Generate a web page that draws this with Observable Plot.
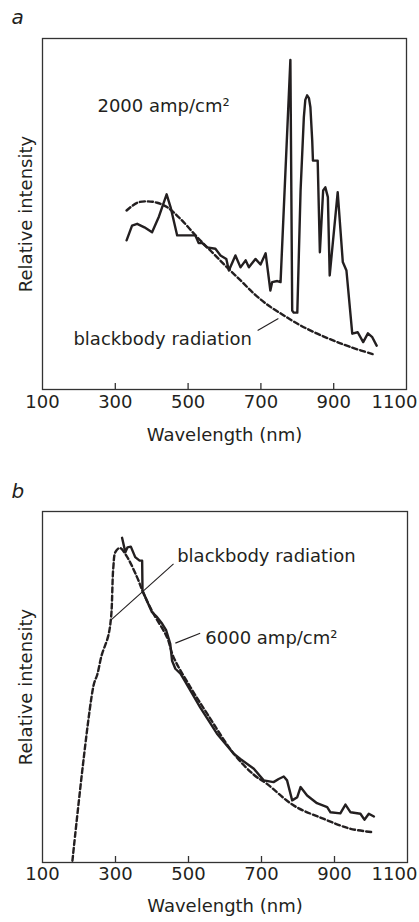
<!DOCTYPE html>
<html><head><meta charset="utf-8">
<script src="https://cdn.jsdelivr.net/npm/d3@7"></script>
<script src="https://cdn.jsdelivr.net/npm/@observablehq/plot@0.6"></script>
<style>
body{margin:0;background:#fff;font-family:"DejaVu Sans",sans-serif;}
#wrap{position:relative;width:419px;height:922px;}
.panel{position:absolute;left:0;}
</style></head><body>
<div id="wrap"><div id="pa" class="panel" style="top:0"></div><div id="pb" class="panel" style="top:460px"></div></div>
<script>
// x axis ticks (nm)
const xTicks = [100, 300, 500, 700, 900, 1100];

// Panel a: 2000 amp/cm^2 spectrum [wavelength nm, relative intensity]
const solidA = [[331,42.5],[346,46.7],[360,47.2],[380,46.2],[401,44.8],[420,49.3],[441,55.6],[452,51.9],[470,43.9],[520,43.9],[529,41.7],[539,41.7],[552,40.5],[575,40.1],[589,38.2],[605,37.2],[612,33.9],[630,38.2],[644,34.8],[658,36.8],[667,34.8],[685,37.2],[699,35.6],[713,38.8],[726,28.2],[731,30.6],[745,30.9],[754,30.6],[781,93.9],[786,22.5],[790,21.9],[800,21.9],[809,56.7],[818,77.6],[822,82.5],[827,83.8],[832,83.0],[836,80.4],[841,70.9],[843,65.2],[856,65.2],[862,39.1],[871,56.7],[877,57.6],[884,54.8],[889,32.5],[911,56.2],[925,36.3],[935,33.9],[951,15.9],[966,16.3],[981,13.5],[994,16.0],[1006,14.9],[1018,12.5]];
// Panel a: blackbody radiation curve
const dashedA = [[331,51.0],[360,53.2],[388,53.6],[415,53.2],[443,51.9],[480,48.5],[525,43.4],[567,39.0],[607,34.8],[645,31.0],[681,27.3],[720,24.0],[763,21.1],[808,18.3],[855,15.9],[900,13.9],[946,12.1],[1010,10.0]];

// Panel b: 6000 amp/cm^2 spectrum
const solidB = [[318,92.5],[327,88.4],[333,89.8],[342,90.0],[354,87.0],[366,86.0],[373,86.0],[374,77.5],[386,74.6],[400,71.3],[414,69.9],[428,68.0],[439,66.1],[450,62.3],[455,57.5],[464,55.2],[478,53.8],[489,51.9],[532,44.2],[578,36.7],[624,31.0],[642,29.5],[679,26.7],[706,23.4],[733,22.9],[747,23.8],[761,24.5],[770,23.4],[784,17.7],[798,18.6],[807,21.5],[825,19.1],[852,16.9],[880,15.8],[889,14.3],[916,14.0],[930,16.5],[944,14.3],[971,13.9],[982,12.2],[994,13.9],[1008,13.1]];
// Panel b: blackbody radiation curve
const dashedB = [[182,0.5],[240,50.5],[250,53.5],[262,59.0],[280,64.5],[288,70.0],[294,84.0],[300,88.5],[312,89.6],[331,87.2],[359,81.3],[377,76.6],[404,70.9],[441,64.2],[459,58.5],[505,50.0],[551,42.4],[624,31.0],[679,25.0],[715,22.4],[789,16.2],[871,12.4],[944,9.6],[1008,8.6]];

// Annotations
const labelsA = [{x: 251, y: 80.7, text: "2000 amp/cm²"}, {x: 185, y: 14.4, text: "blackbody radiation"}];
const leadersA = [{x1: 691, y1: 16.8, x2: 748, y2: 20.2}];
const labelsB = [{x: 469, y: 87.2, text: "blackbody radiation"}, {x: 546, y: 63.8, text: "6000 amp/cm²"}];
const leadersB = [{x1: 459, y1: 85.1, x2: 288, y2: 69.1}, {x1: 532, y1: 65.3, x2: 464, y2: 62.5}];

const ink = "#231f20";

function panel({letter, solid, dashed, labels, leaders, height, marginTop, marginBottom, marginRight, tickDy, labelDy, letterDy, lastDx}) {
  const plotH = height - marginTop - marginBottom;
  return Plot.plot({
    width: 419, height, marginTop, marginBottom, marginLeft: 42, marginRight,
    style: {fontFamily: '"DejaVu Sans", sans-serif', fontSize: "18px", color: ink, background: "white"},
    x: {domain: [100, 1100], axis: null},
    y: {domain: [0, 100], axis: null},
    marks: [
      Plot.frame({stroke: "#333", strokeWidth: 1.3}),
      Plot.ruleX(xTicks.slice(1, -1), {x: d => d, stroke: "#333", strokeWidth: 1.3, insetTop: plotH - 6}),
      Plot.text(xTicks.slice(0, -1), {x: d => d, text: d => String(d), frameAnchor: "bottom", dy: tickDy, fontSize: 18, fill: ink}),
      Plot.text(xTicks.slice(-1), {x: d => d, text: d => String(d), frameAnchor: "bottom", dy: tickDy, dx: lastDx, fontSize: 18, fill: ink}),
      Plot.text(["Wavelength (nm)"], {text: d => d, frameAnchor: "bottom", dy: labelDy, fontSize: 18, fill: ink}),
      Plot.text(["Relative intensity"], {text: d => d, frameAnchor: "left", textAnchor: "middle", rotate: -90, dx: -16, fontSize: 18, fill: ink}),
      Plot.text([letter], {text: d => d, frameAnchor: "top-left", dx: -31, dy: letterDy, lineAnchor: "bottom", textAnchor: "start", fontStyle: "italic", fontSize: 20, fill: ink}),
      Plot.line(dashed, {x: d => d[0], y: d => d[1], curve: "catmull-rom", stroke: ink, strokeWidth: 2.4, strokeDasharray: "5,3"}),
      Plot.line(solid, {x: d => d[0], y: d => d[1], stroke: ink, strokeWidth: 2.4, strokeLinejoin: "round"}),
      Plot.link(leaders, {x1: "x1", y1: "y1", x2: "x2", y2: "y2", stroke: ink, strokeWidth: 1.1}),
      Plot.text(labels, {x: "x", y: "y", text: "text", textAnchor: "start", fontSize: 18, fill: ink})
    ]
  });
}

document.getElementById("pa").append(panel({letter: "a", solid: solidA, dashed: dashedA, labels: labelsA, leaders: leadersA,
  height: 460, marginTop: 38, marginBottom: 71, marginRight: 13, tickDy: 18, labelDy: 51, letterDy: -15, lastDx: -12}));
document.getElementById("pb").append(panel({letter: "b", solid: solidB, dashed: dashedB, labels: labelsB, leaders: leadersB,
  height: 462, marginTop: 51, marginBottom: 60, marginRight: 12, tickDy: 17, labelDy: 49, letterDy: -14, lastDx: -13}));
</script>
</body></html>
